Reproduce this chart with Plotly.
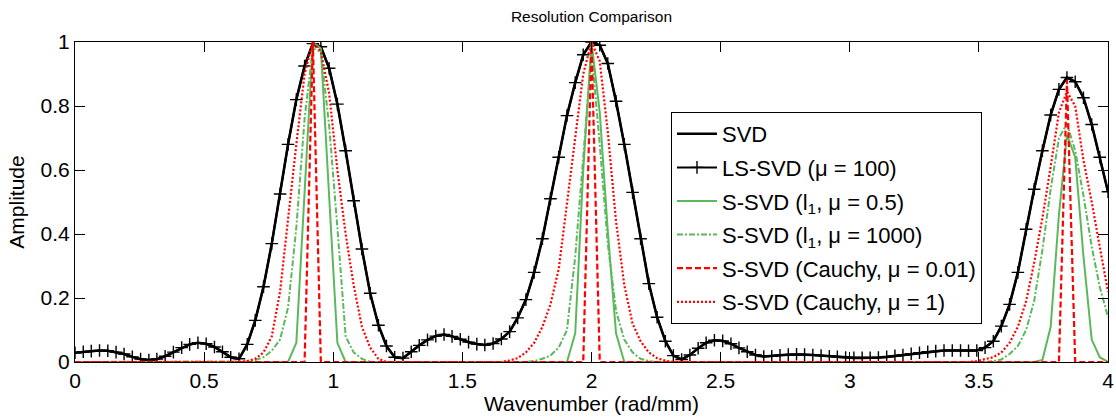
import plotly.graph_objects as go

# ---------------- data ----------------
wavenumber = [
    0.000, 0.032, 0.063, 0.095, 0.127, 0.159, 0.190, 0.222, 0.254, 0.286,
    0.317, 0.349, 0.381, 0.413, 0.444, 0.476, 0.508, 0.540, 0.571, 0.603,
    0.635, 0.667, 0.698, 0.730, 0.762, 0.794, 0.825, 0.857, 0.889, 0.921,
    0.952, 0.984, 1.016, 1.048, 1.079, 1.111, 1.143, 1.175, 1.206, 1.238,
    1.270, 1.302, 1.333, 1.365, 1.397, 1.429, 1.460, 1.492, 1.524, 1.556,
    1.587, 1.619, 1.651, 1.683, 1.714, 1.746, 1.778, 1.810, 1.841, 1.873,
    1.905, 1.937, 1.968, 2.000, 2.032, 2.063, 2.095, 2.127, 2.159, 2.190,
    2.222, 2.254, 2.286, 2.317, 2.349, 2.381, 2.413, 2.444, 2.476, 2.508,
    2.540, 2.571, 2.603, 2.635, 2.667, 2.698, 2.730, 2.762, 2.794, 2.825,
    2.857, 2.889, 2.921, 2.952, 2.984, 3.016, 3.048, 3.079, 3.111, 3.143,
    3.175, 3.206, 3.238, 3.270, 3.302, 3.333, 3.365, 3.397, 3.429, 3.460,
    3.492, 3.524, 3.556, 3.587, 3.619, 3.651, 3.683, 3.714, 3.746, 3.778,
    3.810, 3.841, 3.873, 3.905, 3.937, 3.968, 4.000,
]

svd_amp = [
    0.029, 0.032, 0.034, 0.036, 0.035, 0.031, 0.025, 0.016, 0.009, 0.006,
    0.009, 0.018, 0.031, 0.045, 0.055, 0.060, 0.057, 0.047, 0.032, 0.015,
    0.010, 0.055, 0.130, 0.235, 0.370, 0.525, 0.680, 0.820, 0.925, 0.995,
    0.985, 0.918, 0.806, 0.660, 0.504, 0.353, 0.215, 0.115, 0.050, 0.015,
    0.012, 0.032, 0.052, 0.069, 0.081, 0.086, 0.080, 0.071, 0.062, 0.056,
    0.053, 0.058, 0.072, 0.095, 0.138, 0.195, 0.280, 0.385, 0.510, 0.640,
    0.770, 0.873, 0.960, 1.000, 0.990, 0.933, 0.815, 0.680, 0.530, 0.385,
    0.245, 0.140, 0.065, 0.020, 0.008, 0.022, 0.043, 0.060, 0.068, 0.066,
    0.057, 0.044, 0.032, 0.022, 0.017, 0.018, 0.021, 0.023, 0.024, 0.023,
    0.022, 0.020, 0.018, 0.016, 0.014, 0.013, 0.013, 0.013, 0.014, 0.016,
    0.019, 0.022, 0.026, 0.029, 0.032, 0.034, 0.036, 0.036, 0.036, 0.035,
    0.036, 0.045, 0.065, 0.112, 0.180, 0.280, 0.415, 0.540, 0.660, 0.772,
    0.852, 0.889, 0.876, 0.826, 0.742, 0.640, 0.532,
]

# LS-SVD (mu = 100) lies exactly on the SVD curve in the picture
ls_svd_amp = [
    0.029, 0.032, 0.034, 0.036, 0.035, 0.031, 0.025, 0.016, 0.009, 0.006,
    0.009, 0.018, 0.031, 0.045, 0.055, 0.060, 0.057, 0.047, 0.032, 0.015,
    0.010, 0.055, 0.130, 0.235, 0.370, 0.525, 0.680, 0.820, 0.925, 0.995,
    0.985, 0.918, 0.806, 0.660, 0.504, 0.353, 0.215, 0.115, 0.050, 0.015,
    0.012, 0.032, 0.052, 0.069, 0.081, 0.086, 0.080, 0.071, 0.062, 0.056,
    0.053, 0.058, 0.072, 0.095, 0.138, 0.195, 0.280, 0.385, 0.510, 0.640,
    0.770, 0.873, 0.960, 1.000, 0.990, 0.933, 0.815, 0.680, 0.530, 0.385,
    0.245, 0.140, 0.065, 0.020, 0.008, 0.022, 0.043, 0.060, 0.068, 0.066,
    0.057, 0.044, 0.032, 0.022, 0.017, 0.018, 0.021, 0.023, 0.024, 0.023,
    0.022, 0.020, 0.018, 0.016, 0.014, 0.013, 0.013, 0.013, 0.014, 0.016,
    0.019, 0.022, 0.026, 0.029, 0.032, 0.034, 0.036, 0.036, 0.036, 0.035,
    0.036, 0.045, 0.065, 0.112, 0.180, 0.280, 0.415, 0.540, 0.660, 0.772,
    0.852, 0.889, 0.876, 0.826, 0.742, 0.640, 0.532,
]

ssvd_l1_05 = [
    0, 0, 0, 0, 0, 0, 0, 0, 0, 0,
    0, 0, 0, 0, 0, 0, 0, 0, 0, 0,
    0, 0, 0, 0, 0, 0, 0, 0.06, 0.53, 1.0,
    0.98, 0.52, 0.06, 0, 0, 0, 0, 0, 0, 0,
    0, 0, 0, 0, 0, 0, 0, 0, 0, 0,
    0, 0, 0, 0, 0, 0, 0, 0, 0, 0,
    0, 0.09, 0.60, 1.0, 0.78, 0.41, 0.09, 0, 0, 0,
    0, 0, 0, 0, 0, 0, 0, 0, 0, 0,
    0, 0, 0, 0, 0, 0, 0, 0, 0, 0,
    0, 0, 0, 0, 0, 0, 0, 0, 0, 0,
    0, 0, 0, 0, 0, 0, 0, 0, 0, 0,
    0, 0, 0, 0, 0, 0, 0, 0, 0.006, 0.11,
    0.46, 0.71, 0.64, 0.33, 0.07, 0.015, 0,
]

ssvd_l1_1000 = [
    0, 0, 0, 0, 0, 0, 0, 0, 0, 0,
    0, 0, 0, 0, 0, 0, 0, 0, 0, 0,
    0, 0.002, 0.006, 0.015, 0.035, 0.07, 0.17, 0.42, 0.76, 0.98,
    0.97, 0.74, 0.42, 0.08, 0.03, 0.01, 0, 0, 0, 0,
    0, 0, 0, 0, 0, 0, 0, 0, 0, 0,
    0, 0, 0, 0, 0, 0, 0.003, 0.01, 0.02, 0.045,
    0.10, 0.33, 0.64, 0.97, 0.68, 0.37, 0.16, 0.07, 0.03, 0.01,
    0.003, 0, 0, 0, 0, 0, 0, 0, 0, 0,
    0, 0, 0, 0, 0, 0, 0, 0, 0, 0,
    0, 0, 0, 0, 0, 0, 0, 0, 0, 0,
    0, 0, 0, 0, 0, 0, 0, 0, 0, 0,
    0, 0, 0.003, 0.008, 0.025, 0.05, 0.10, 0.19, 0.35, 0.54,
    0.70, 0.745, 0.66, 0.52, 0.36, 0.235, 0.14,
]

ssvd_cauchy_001 = [
    0, 0, 0, 0, 0, 0, 0, 0, 0, 0,
    0, 0, 0, 0, 0, 0, 0, 0, 0, 0,
    0, 0, 0, 0, 0, 0, 0, 0, 0, 1.0,
    0, 0, 0, 0, 0, 0, 0, 0, 0, 0,
    0, 0, 0, 0, 0, 0, 0, 0, 0, 0,
    0, 0, 0, 0, 0, 0, 0, 0, 0, 0,
    0, 0, 0, 1.0, 0, 0, 0, 0, 0, 0,
    0, 0, 0, 0, 0, 0, 0, 0, 0, 0,
    0, 0, 0, 0, 0, 0, 0, 0, 0, 0,
    0, 0, 0, 0, 0, 0, 0, 0, 0, 0,
    0, 0, 0, 0, 0, 0, 0, 0, 0, 0,
    0, 0, 0, 0, 0, 0, 0, 0, 0, 0,
    0, 0.88, 0, 0, 0, 0, 0,
]

ssvd_cauchy_1 = [
    0, 0, 0, 0, 0, 0, 0, 0, 0, 0,
    0, 0, 0, 0, 0, 0, 0, 0, 0, 0,
    0, 0.003, 0.01, 0.03, 0.08, 0.22, 0.45, 0.68, 0.90, 1.0,
    0.97, 0.84, 0.60, 0.40, 0.24, 0.11, 0.045, 0.01, 0, 0,
    0, 0, 0, 0, 0, 0, 0, 0, 0, 0,
    0, 0, 0, 0.005, 0.012, 0.03, 0.06, 0.11, 0.18, 0.29,
    0.49, 0.70, 0.90, 1.0, 0.94, 0.72, 0.44, 0.24, 0.12, 0.065,
    0.03, 0.012, 0.004, 0, 0, 0, 0, 0, 0, 0,
    0, 0, 0, 0, 0, 0, 0, 0, 0, 0,
    0, 0, 0, 0, 0, 0, 0, 0, 0, 0,
    0, 0, 0, 0, 0, 0, 0, 0, 0, 0,
    0.003, 0.008, 0.015, 0.03, 0.06, 0.11, 0.19, 0.31, 0.45, 0.61,
    0.78, 0.845, 0.80, 0.63, 0.50, 0.36, 0.22,
]

series_names = [
    "SVD",
    "LS-SVD (μ = 100)",
    "S-SVD (l<sub>1</sub>, μ = 0.5)",
    "S-SVD (l<sub>1</sub>, μ = 1000)",
    "S-SVD (Cauchy, μ = 0.01)",
    "S-SVD (Cauchy, μ = 1)",
]

x_tick_vals = [0, 0.5, 1, 1.5, 2, 2.5, 3, 3.5, 4]
x_tick_text = ["0", "0.5", "1", "1.5", "2", "2.5", "3", "3.5", "4"]
y_tick_vals = [0, 0.2, 0.4, 0.6, 0.8, 1]
y_tick_text = ["0", "0.2", "0.4", "0.6", "0.8", "1"]

# ---------------- figure ----------------
FONT = "Arial, 'Liberation Sans', Helvetica, sans-serif"
GREEN = "rgb(92,184,92)"
RED = "rgb(255,0,0)"

fig = go.Figure()
fig.add_trace(go.Scatter(
    x=wavenumber, y=svd_amp, mode="lines", name=series_names[0],
    legendgroup="g0", line=dict(color="black", width=2.6)))
fig.add_trace(go.Scatter(
    x=wavenumber, y=ls_svd_amp, mode="lines+markers", name=series_names[1],
    legendgroup="g1", line=dict(color="black", width=2),
    marker=dict(symbol="cross-thin", size=9, color="black",
                line=dict(width=1.4, color="black"))))
fig.add_trace(go.Scatter(
    x=wavenumber, y=ssvd_l1_05, mode="lines", name=series_names[2],
    legendgroup="g2", line=dict(color=GREEN, width=2)))
fig.add_trace(go.Scatter(
    x=wavenumber, y=ssvd_l1_1000, mode="lines", name=series_names[3],
    legendgroup="g3", line=dict(color=GREEN, width=2, dash="6px,2px,2px,2px")))
fig.add_trace(go.Scatter(
    x=wavenumber, y=ssvd_cauchy_001, mode="lines", name=series_names[4],
    legendgroup="g4", line=dict(color=RED, width=2.2, dash="6px,3px")))
fig.add_trace(go.Scatter(
    x=wavenumber, y=ssvd_cauchy_1, mode="lines", name=series_names[5],
    legendgroup="g5", line=dict(color=RED, width=2.2, dash="2px,2px")))

axis_common = dict(
    showgrid=False, zeroline=False, showline=True, linecolor="black",
    linewidth=1, mirror="ticks", ticks="inside", ticklen=10,
    tickcolor="black", tickwidth=1, automargin=False,
    tickfont=dict(family=FONT, size=21, color="black"),
)

fig.update_layout(
    width=1116, height=420,
    paper_bgcolor="white", plot_bgcolor="white",
    margin=dict(l=75, r=8, t=42, b=58),
    font=dict(family=FONT, color="black"),
    title=dict(text="Resolution Comparison", x=0.53, xanchor="center",
               y=1 - 17 / 420, yanchor="middle", yref="container",
               font=dict(family=FONT, size=15.5, color="black")),
    xaxis=dict(range=[0, 4], tickvals=x_tick_vals, ticktext=x_tick_text,
               title=dict(text="Wavenumber (rad/mm)", standoff=2,
                          font=dict(family=FONT, size=21, color="black")),
               **axis_common),
    yaxis=dict(range=[0, 1], tickvals=y_tick_vals, ticktext=y_tick_text,
               title=dict(text="Amplitude", standoff=10,
                          font=dict(family=FONT, size=21, color="black")),
               **axis_common),
    legend=dict(x=(671 - 75) / 1033, y=(362 - 112) / 320,
                xanchor="left", yanchor="top",
                bgcolor="white", bordercolor="black", borderwidth=1,
                font=dict(family=FONT, size=22, color="black"),
                tracegroupgap=2, itemwidth=40),
    showlegend=True,
)

fig.write_html("out.html", config={"displayModeBar": False},
               post_script="document.body.style.margin='0';")
